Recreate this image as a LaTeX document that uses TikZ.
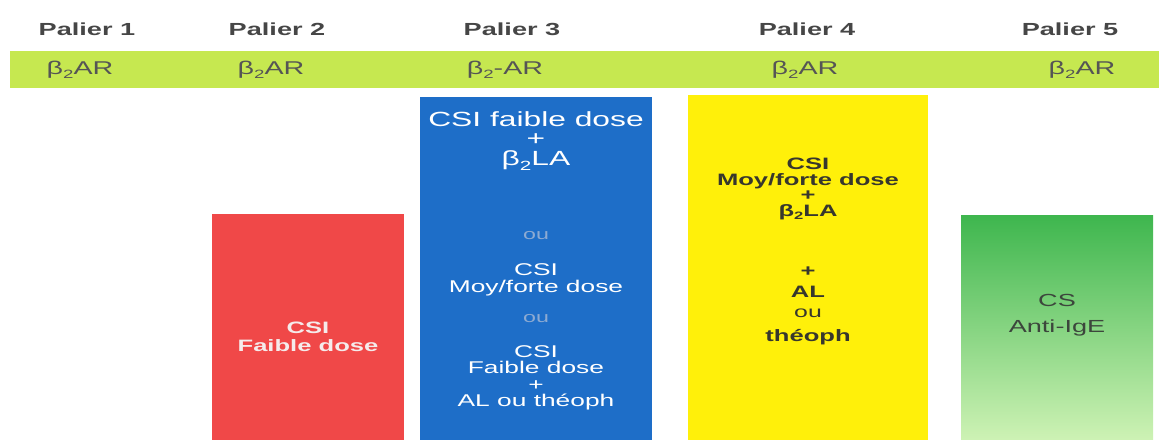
\documentclass[tikz,border=0pt]{standalone}
\usepackage{fontspec}
\setmainfont{Liberation Sans}[FakeStretch=1.55]
\definecolor{band}{RGB}{198,232,80}
\definecolor{hdr}{RGB}{70,70,70}
\definecolor{bandtxt}{RGB}{85,85,85}
\definecolor{redbox}{RGB}{240,72,72}
\definecolor{bluebox}{RGB}{30,110,200}
\definecolor{yelbox}{RGB}{255,240,10}
\definecolor{greentop}{RGB}{62,182,78}
\definecolor{greenbot}{RGB}{205,242,180}
\definecolor{ytxt}{RGB}{55,55,45}
\definecolor{gtxt}{RGB}{60,70,60}
\definecolor{oucol}{RGB}{140,170,210}
\definecolor{rtxt}{RGB}{245,235,235}
\newcommand{\subtwo}{\raisebox{-0.45ex}{\scalebox{0.65}{2}}}
\tikzset{
  hdrtxt/.style={font=\bfseries\fontsize{17.5}{19}\selectfont, text=hdr, inner sep=0pt},
  bandlbl/.style={font=\fontsize{18.5}{20}\selectfont, text=bandtxt, inner sep=0pt},
  colbox/.style={draw=none, anchor=north west, inner sep=0pt},
  wtxt/.style={font=\fontsize{17}{16.5}\selectfont, text=white, align=center, inner sep=0pt},
  ytx/.style={font=\bfseries\fontsize{16.5}{15.5}\selectfont, text=ytxt, align=center, inner sep=0pt},
}
\begin{document}
\begin{tikzpicture}[x=1pt,y=-1pt]
\useasboundingbox (0,0) rectangle (1159,439);
% band
\node[colbox, fill=band, minimum width=1149pt, minimum height=37pt] (bandrect) at (10,51) {};
% headers
\node[hdrtxt] (h1) at (87,29) {Palier 1};
\node[hdrtxt] (h2) at (277,29) {Palier 2};
\node[hdrtxt] (h3) at (512,29) {Palier 3};
\node[hdrtxt] (h4) at (807,29) {Palier 4};
\node[hdrtxt] (h5) at (1070,29) {Palier 5};
% band labels
\node[bandlbl] (b1) at (80,70) {β\subtwo AR};
\node[bandlbl] (b2) at (271,70) {β\subtwo AR};
\node[bandlbl] (b3) at (505,70) {β\subtwo-AR};
\node[bandlbl] (b4) at (805,70) {β\subtwo AR};
\node[bandlbl] (b5) at (1082,70) {β\subtwo AR};
% boxes
\node[colbox, fill=redbox, minimum width=192pt, minimum height=226pt] (red) at (212,214) {};
\node[colbox, fill=bluebox, minimum width=232pt, minimum height=343pt] (blue) at (420,97) {};
\node[colbox, fill=yelbox, minimum width=240pt, minimum height=345pt] (yel) at (688,95) {};
\shade[top color=greentop, bottom color=greenbot] (961,215) rectangle (1153,439);
\node[colbox, minimum width=192pt, minimum height=225pt] (green) at (961,215) {};
% red text
\node[wtxt, text=rtxt, font=\bfseries\fontsize{16.5}{17.5}\selectfont] (r1) at (308,337) {CSI\\Faible dose};
% blue text
\node[wtxt, font=\fontsize{20.5}{19.5}\selectfont] (bl1) at (536,141) {CSI faible dose\\+\\β\subtwo LA};
\node[wtxt, text=oucol, font=\fontsize{15}{15}\selectfont] (bl2) at (536,236) {ou};
\node[wtxt] (bl3) at (536,280) {CSI\\Moy/forte dose};
\node[wtxt, text=oucol, font=\fontsize{15}{15}\selectfont] (bl4) at (536,319) {ou};
\node[wtxt] (bl5) at (536,378) {CSI\\Faible dose\\+\\AL ou théoph};
% yellow text
\node[ytx] (y1) at (808,189) {CSI\\Moy/forte dose\\+\\β\subtwo LA};
\node[ytx] (y2) at (808,272) {+};
\node[ytx] (y3) at (808,292) {AL};
\node[ytx, font=\fontsize{16}{16}\selectfont] (y4) at (808,313) {ou};
\node[ytx] (y5) at (808,337) {théoph};
% green text
\node[font=\fontsize{17.5}{19}\selectfont, text=gtxt, inner sep=0pt] (g1) at (1057,300) {CS};
\node[font=\fontsize{17.5}{19}\selectfont, text=gtxt, inner sep=0pt] (g2) at (1057,328) {Anti-IgE};
\end{tikzpicture}
\end{document}
